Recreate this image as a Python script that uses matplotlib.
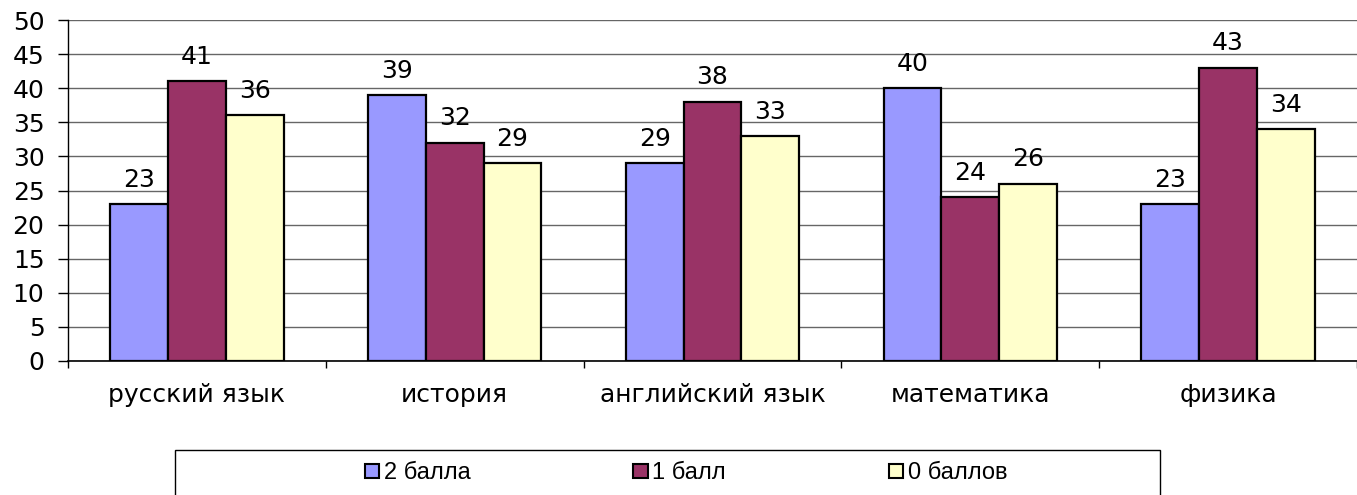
import matplotlib
matplotlib.use("Agg")
import matplotlib.pyplot as plt
import numpy as np
from matplotlib.patches import Rectangle, Patch

plt.rcParams['font.family'] = ['DejaVu Sans']

categories = ["русский язык", "история", "английский язык", "математика", "физика"]
series_names = ["2 балла", "1 балл", "0 баллов"]
vals_2 = [23, 39, 29, 40, 23]
vals_1 = [41, 32, 38, 24, 43]
vals_0 = [36, 29, 33, 26, 34]
colors = ["#9999FF", "#993366", "#FFFFCC"]

fig = plt.figure(figsize=(13.57, 4.95), dpi=100)
ax = fig.add_axes([68/1357, 1-361/495, 1-68/1357, (361-20)/495])

x = np.arange(len(categories))
w = 0.224
for i, (vals, c, name) in enumerate(zip([vals_2, vals_1, vals_0], colors, series_names)):
    bars = ax.bar(x + (i-1)*w, vals, w, color=c, edgecolor='black', linewidth=1.6, label=name, zorder=3)
    for b, v in zip(bars, vals):
        ax.annotate(str(v), (b.get_x()+b.get_width()/2, v), xytext=(0, 12.5), textcoords='offset points',
                    ha='center', va='baseline', fontsize=18)

ax.set_xlim(-0.5, len(categories)-0.5)
ax.set_ylim(0, 50)
ax.set_yticks(range(0, 51, 5))
ax.yaxis.grid(True, color='#666666', linewidth=1.0, zorder=0)
ax.set_axisbelow(True)
for s in ['top', 'right']:
    ax.spines[s].set_visible(False)
ax.spines['left'].set_linewidth(1.0)
ax.spines['bottom'].set_linewidth(1.2)
ax.tick_params(axis='y', labelsize=18, length=7, width=1, pad=10)
ax.set_xticks(x)
ax.set_xticklabels(categories, fontsize=18)
ax.tick_params(axis='x', length=0, pad=16)
ax.set_xticks(np.arange(-0.5, len(categories), 1), minor=True)
ax.tick_params(axis='x', which='minor', length=5, width=1)

# legend box
fig.patches.append(Rectangle((175/1357, -0.05), (1160-175)/1357, 0.05 + 45/495,
                             transform=fig.transFigure, facecolor='white', edgecolor='black', linewidth=1.0))
handles = [Patch(facecolor=c, edgecolor='black', linewidth=1.5) for c in colors]
fig.legend(handles, series_names, loc='center', bbox_to_anchor=(686/1357, 1-473/495),
           ncol=3, frameon=False, prop={'family': 'Liberation Sans', 'size': 17},
           handlelength=0.6, handleheight=0.55, handletextpad=0.2, columnspacing=6.9,
           borderpad=0, borderaxespad=0)

fig.savefig("out.png", dpi=100)
